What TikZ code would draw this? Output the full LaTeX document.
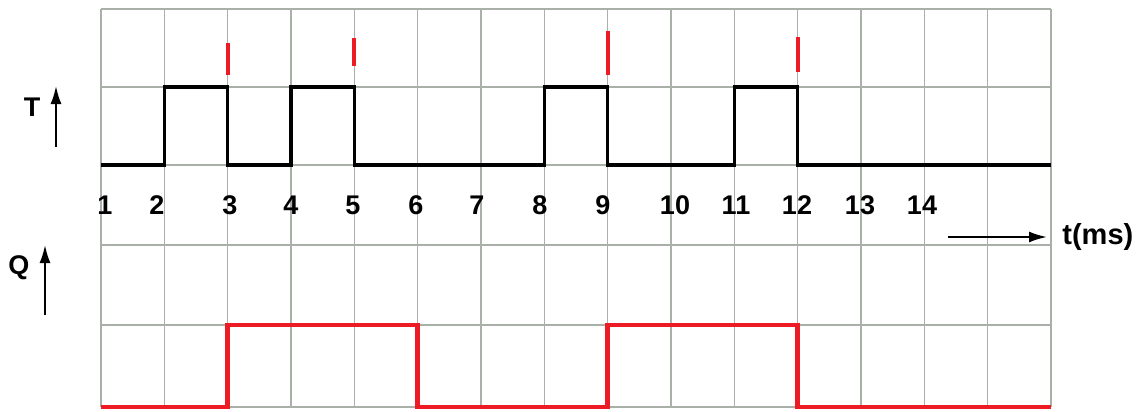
\documentclass[tikz,border=0pt]{standalone}
\usepackage{fontspec}
\setmainfont{Liberation Sans}
\usetikzlibrary{arrows.meta}
\definecolor{gridgray}{RGB}{168,176,168}
\definecolor{pulsered}{RGB}{237,28,36}

\begin{document}
\begin{tikzpicture}[x=0.5pt,y=-0.5pt,
    gridline/.style={draw=gridgray, line width=0.75pt},
    twave/.style={draw=black, line width=1.8pt},
    qwave/.style={draw=pulsered, line width=2.3pt},
    edgemark/.style={draw=pulsered, line width=2pt},
    axisarrow/.style={-{Latex[length=9pt,width=5.5pt]}, line width=1pt},
    numlbl/.style={font=\bfseries\fontsize{13.5}{13.5}\selectfont, inner sep=0pt},
    axislbl/.style={font=\bfseries\fontsize{13.5}{13.5}\selectfont, inner sep=0pt}]
    \useasboundingbox (0,0) rectangle (1140,412);

    % grid and waveforms, one x unit per column
    \begin{scope}[xshift=50.5pt, x=31.667pt]
        \foreach \k in {0,...,15}
            \draw[gridline] (\k,9) -- (\k,407);
        \foreach \y in {9,87,165,245,325,407}
            \draw[gridline] (0,\y) -- (15,\y);

        % T input
        \draw[twave] (0,165) -| (1,87) -| (2,165) -| (3,87) -| (4,165)
            -| (7,87) -| (8,165) -| (10,87) -| (11,165) -- (15,165);

        % falling edge marks
        \foreach \c/\ya/\yb in {2/43/75, 4/38/66, 8/31/75, 11/37/72}
            \draw[edgemark] (\c,\ya) -- (\c,\yb);

        % Q output
        \draw[qwave] (0,407) -| (2,325) -| (5,407) -| (8,325) -| (11,407) -- (15,407);
    \end{scope}

    % time labels
    \foreach \n/\x in {1/105, 2/157, 3/230, 4/291, 5/353, 6/416, 7/477,
                       8/540, 9/603, 10/675, 11/736, 12/797, 13/860, 14/922}
        \node[numlbl] (lbl\n) at (\x,205) {\n};

    % axes
    \node[axislbl] (tlbl) at (32,107) {T};
    \coordinate (tfoot) at (56,147);
    \coordinate (thead) at (56,86);
    \draw[axisarrow] (tfoot) -- (thead);

    \node[axislbl] (qlbl) at (19,268) {Q};
    \coordinate (qfoot) at (45,315);
    \coordinate (qhead) at (45,245);
    \draw[axisarrow] (qfoot) -- (qhead);

    \node[axislbl, anchor=west, font=\bfseries\fontsize{14.5}{14.5}\selectfont] (timelbl) at (1062,237) {t(ms)};
    \coordinate (timefoot) at (948,237);
    \coordinate (timehead) at (1047,237);
    \draw[axisarrow] (timefoot) -- (timehead);
\end{tikzpicture}
\end{document}
